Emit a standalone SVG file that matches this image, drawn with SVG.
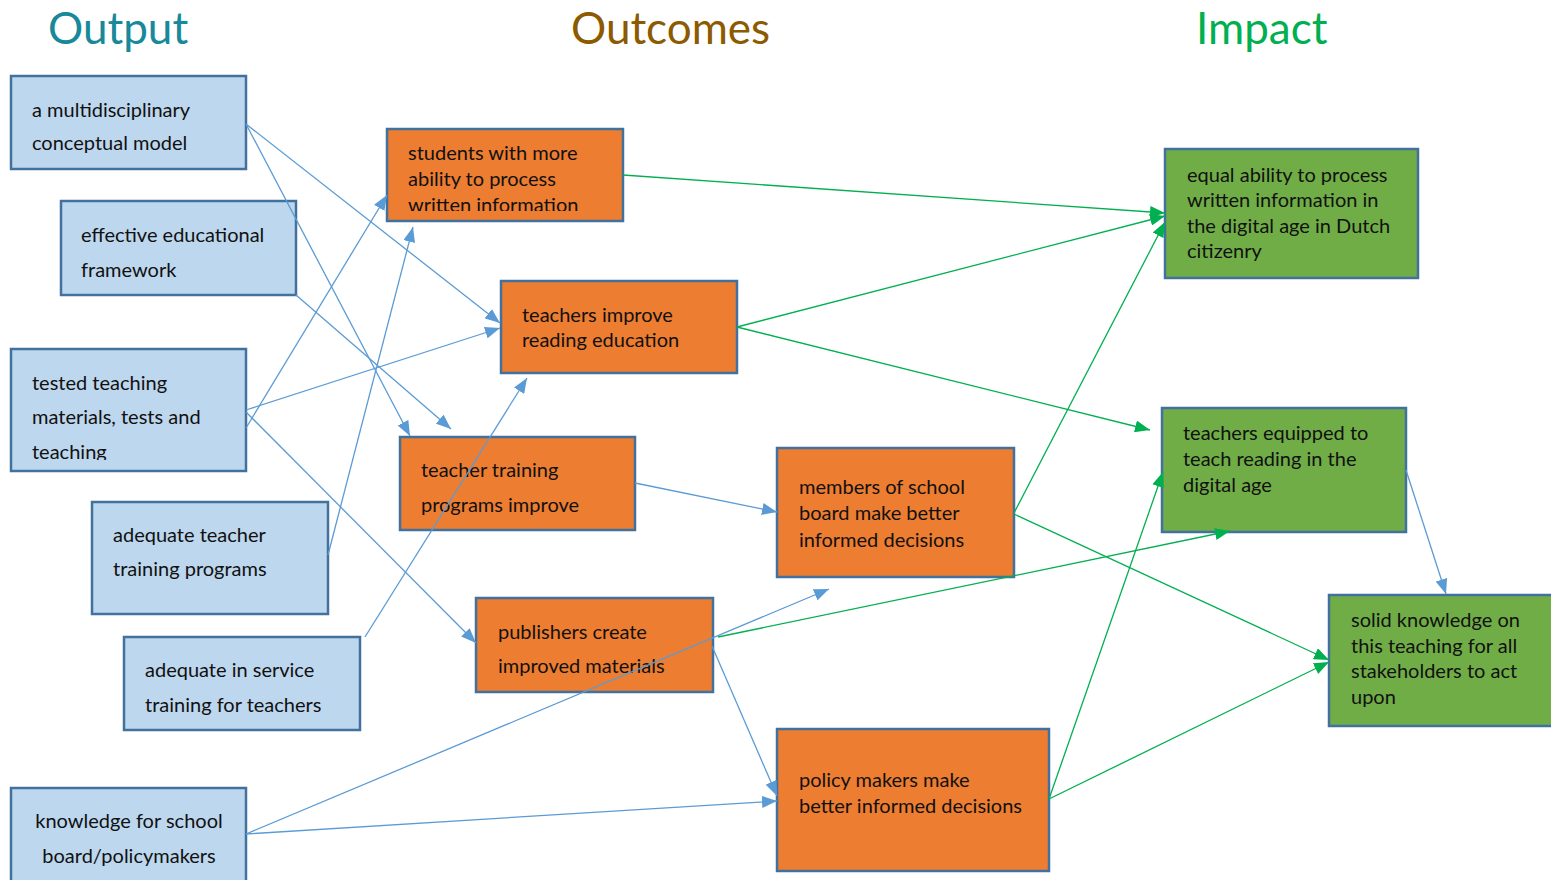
<svg xmlns="http://www.w3.org/2000/svg" width="1551" height="880" viewBox="0 0 1551 880">
<style>
.t{font-family:Lato,"Liberation Sans",sans-serif;font-size:20px;fill:#111}
.h{font-family:Lato,"Liberation Sans",sans-serif;font-size:44px}
.bb{fill:#BDD7EE;stroke:#41719C;stroke-width:2.5}
.ob{fill:#ED7D31;stroke:#41719C;stroke-width:2.5}
.gb{fill:#70AD47;stroke:#41719C;stroke-width:2.5}
.cb{stroke:#5B9BD5;stroke-width:1.3;fill:none}
.cg{stroke:#00B050;stroke-width:1.3;fill:none}
</style>
<defs>
<marker id="ab" markerUnits="userSpaceOnUse" markerWidth="16" markerHeight="12" refX="15" refY="6" orient="auto"><path d="M0,0 L15,6 L0,12 z" fill="#5B9BD5"/></marker>
<marker id="ag" markerUnits="userSpaceOnUse" markerWidth="16" markerHeight="12" refX="15" refY="6" orient="auto"><path d="M0,0 L15,6 L0,12 z" fill="#00B050"/></marker>
<clipPath id="c3"><rect x="11" y="349" width="235" height="111"/></clipPath>
<clipPath id="co1"><rect x="387" y="129" width="236" height="82"/></clipPath>
</defs>
<rect width="1551" height="880" fill="#fff"/>
<g id="titles">
<text class="h" x="48" y="44" fill="#17899B">Output</text>
<text class="h" x="571" y="44" fill="#8C5A00">Outcomes</text>
<text class="h" x="1196" y="44" fill="#00B050">Impact</text>
</g>
<g id="n1"><rect class="bb" x="11" y="76" width="235" height="93"/><text class="t" x="32" y="117">a multidisciplinary</text><text class="t" x="32" y="150">conceptual model</text></g>
<g id="n2"><rect class="bb" x="61" y="201" width="235" height="94"/><text class="t" x="81" y="242">effective educational</text><text class="t" x="81" y="277">framework</text></g>
<g id="n3"><rect class="bb" x="11" y="349" width="235" height="122"/><g clip-path="url(#c3)"><text class="t" x="32" y="390">tested teaching</text><text class="t" x="32" y="424">materials, tests and</text><text class="t" x="32" y="459">teaching</text></g></g>
<g id="n4"><rect class="bb" x="92" y="502" width="236" height="112"/><text class="t" x="113" y="542">adequate teacher</text><text class="t" x="113" y="576">training programs</text></g>
<g id="n5"><rect class="bb" x="124" y="637" width="236" height="93"/><text class="t" x="145" y="677">adequate in service</text><text class="t" x="145" y="712">training for teachers</text></g>
<g id="n6"><rect class="bb" x="11" y="788" width="235" height="100"/><text class="t" x="129" y="828" text-anchor="middle">knowledge for school</text><text class="t" x="129" y="863" text-anchor="middle">board/policymakers</text></g>
<g id="o1"><rect class="ob" x="387" y="129" width="236" height="92"/><g clip-path="url(#co1)"><text class="t" x="408" y="160">students with more</text><text class="t" x="408" y="186">ability to process</text><text class="t" x="408" y="212">written information</text></g></g>
<g id="o2"><rect class="ob" x="501" y="281" width="236" height="92"/><text class="t" x="522" y="322">teachers improve</text><text class="t" x="522" y="347">reading education</text></g>
<g id="o3"><rect class="ob" x="400" y="437" width="235" height="93"/><text class="t" x="421" y="477">teacher training</text><text class="t" x="421" y="512">programs improve</text></g>
<g id="o4"><rect class="ob" x="777" y="448" width="237" height="129"/><text class="t" x="799" y="494">members of school</text><text class="t" x="799" y="520">board make better</text><text class="t" x="799" y="547">informed decisions</text></g>
<g id="o5"><rect class="ob" x="476" y="598" width="237" height="94"/><text class="t" x="498" y="639">publishers create</text><text class="t" x="498" y="673">improved materials</text></g>
<g id="o6"><rect class="ob" x="777" y="729" width="272" height="142"/><text class="t" x="799" y="787">policy makers make</text><text class="t" x="799" y="813">better informed decisions</text></g>
<g id="g1"><rect class="gb" x="1165" y="149" width="253" height="129"/><text class="t" x="1187" y="182">equal ability to process</text><text class="t" x="1187" y="207">written information in</text><text class="t" x="1187" y="233">the digital age in Dutch</text><text class="t" x="1187" y="258">citizenry</text></g>
<g id="g2"><rect class="gb" x="1162" y="408" width="244" height="124"/><text class="t" x="1183" y="440">teachers equipped to</text><text class="t" x="1183" y="466">teach reading in the</text><text class="t" x="1183" y="492">digital age</text></g>
<g id="g3"><rect class="gb" x="1329" y="595" width="230" height="131"/><text class="t" x="1351" y="627">solid knowledge on</text><text class="t" x="1351" y="653">this teaching for all</text><text class="t" x="1351" y="678">stakeholders to act</text><text class="t" x="1351" y="704">upon</text></g>
<g id="connectors">
<line class="cb" x1="246" y1="124" x2="500" y2="323" marker-end="url(#ab)"/>
<line class="cb" x1="246" y1="124" x2="410" y2="436" marker-end="url(#ab)"/>
<line class="cb" x1="296" y1="295" x2="451" y2="429" marker-end="url(#ab)"/>
<line class="cb" x1="246" y1="428" x2="387" y2="195" marker-end="url(#ab)"/>
<line class="cb" x1="246" y1="410" x2="500" y2="328" marker-end="url(#ab)"/>
<line class="cb" x1="246" y1="412" x2="476" y2="643" marker-end="url(#ab)"/>
<line class="cb" x1="328" y1="555" x2="413" y2="227" marker-end="url(#ab)"/>
<line class="cb" x1="365" y1="637" x2="527" y2="378" marker-end="url(#ab)"/>
<line class="cb" x1="246" y1="834" x2="829" y2="589" marker-end="url(#ab)"/>
<line class="cb" x1="246" y1="834" x2="777" y2="801" marker-end="url(#ab)"/>
<line class="cb" x1="635" y1="483" x2="777" y2="512" marker-end="url(#ab)"/>
<line class="cb" x1="712" y1="646" x2="777" y2="796" marker-end="url(#ab)"/>
<line class="cb" x1="1406" y1="470" x2="1446" y2="594" marker-end="url(#ab)"/>
<line class="cg" x1="623" y1="175" x2="1165" y2="213" marker-end="url(#ag)"/>
<line class="cg" x1="737" y1="327" x2="1165" y2="216" marker-end="url(#ag)"/>
<line class="cg" x1="737" y1="327" x2="1150" y2="430" marker-end="url(#ag)"/>
<line class="cg" x1="1014" y1="513" x2="1165" y2="222" marker-end="url(#ag)"/>
<line class="cg" x1="1014" y1="514" x2="1329" y2="660" marker-end="url(#ag)"/>
<line class="cg" x1="718" y1="637" x2="1230" y2="531" marker-end="url(#ag)"/>
<line class="cg" x1="1049" y1="799" x2="1163" y2="472" marker-end="url(#ag)"/>
<line class="cg" x1="1049" y1="799" x2="1329" y2="662" marker-end="url(#ag)"/>
</g>
</svg>
